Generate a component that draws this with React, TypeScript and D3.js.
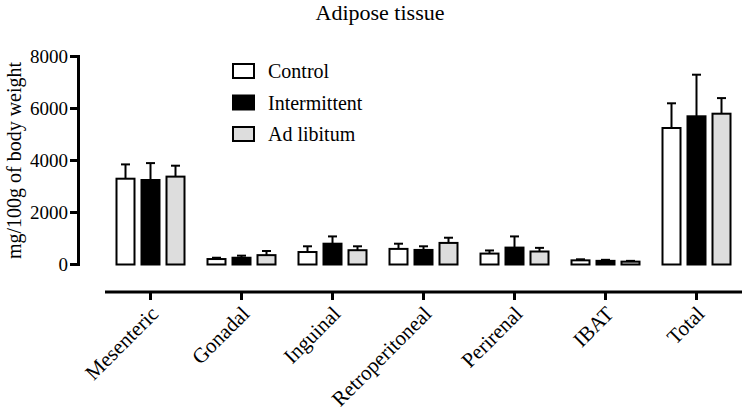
import React from "react";
import * as d3 from "d3";

const categories = ["Mesenteric", "Gonadal", "Inguinal", "Retroperitoneal", "Perirenal", "IBAT", "Total"];
const seriesNames = ["Control", "Intermittent", "Ad libitum"];
const controlMean = [3300, 210, 480, 600, 420, 160, 5250];
const controlErr = [550, 50, 220, 200, 120, 40, 950];
const intermittentMean = [3250, 260, 800, 560, 650, 140, 5700];
const intermittentErr = [650, 80, 280, 140, 430, 40, 1600];
const adlibMean = [3380, 360, 550, 830, 500, 110, 5800];
const adlibErr = [420, 160, 150, 200, 140, 30, 600];
const yTicks = [0, 2000, 4000, 6000, 8000];
const fills = ["#ffffff", "#000000", "#dddddd"];

const FONT = "Liberation Serif";

export default function App() {
  const W = 743, H = 412;
  const y = d3.scaleLinear().domain([0, 8000]).range([264.5, 56.5]);
  const x = d3.scaleBand<string>().domain(categories).range([105, 742]).paddingInner(0).paddingOuter(0);
  const inner = d3.scaleBand<string>().domain(seriesNames).range([-34, 34]).paddingInner(0.28).paddingOuter(0);
  const means = [controlMean, intermittentMean, adlibMean];
  const errs = [controlErr, intermittentErr, adlibErr];
  const axisX = 78.5;
  const ts = { fontFamily: FONT };

  return (
    <svg width={W} height={H} style={{ position: "absolute", left: 0, top: 0, background: "#fff", fontFamily: FONT }}>
      <text x={380} y={20} textAnchor="middle" fontSize={22} style={ts}>Adipose tissue</text>
      {/* y axis */}
      <line x1={axisX} x2={axisX} y1={y(8000) - 1.5} y2={y(0) + 1.5} stroke="#000" strokeWidth={3} />
      {yTicks.map((t) => (
        <g key={t}>
          <line x1={70} x2={axisX} y1={y(t)} y2={y(t)} stroke="#000" strokeWidth={3} />
          <text x={68} y={y(t)} dy="0.35em" textAnchor="end" fontSize={19} style={ts}>{t}</text>
        </g>
      ))}
      <text transform={`translate(21,${(y(0) + y(8000)) / 2}) rotate(-90)`} textAnchor="middle" fontSize={20} style={ts}>
        mg/100g of body weight
      </text>
      {/* bars */}
      {categories.map((c, i) => {
        const cx = x(c)! + x.bandwidth() / 2;
        return (
          <g key={c}>
            {seriesNames.map((s, k) => {
              const bx = cx + inner(s)!;
              const bw = inner.bandwidth();
              const m = means[k][i];
              const top = y(m + errs[k][i]);
              const mid = bx + bw / 2;
              return (
                <g key={s}>
                  <line x1={mid} x2={mid} y1={y(m)} y2={top} stroke="#000" strokeWidth={2} />
                  <line x1={mid - 4.5} x2={mid + 4.5} y1={top} y2={top} stroke="#000" strokeWidth={2} />
                  <rect x={bx} y={y(m)} width={bw} height={y(0) - y(m)} fill={fills[k]} stroke="#000" strokeWidth={2} />
                </g>
              );
            })}
          </g>
        );
      })}
      {/* x axis */}
      <line x1={105} x2={742} y1={292} y2={292} stroke="#000" strokeWidth={3} />
      {categories.map((c) => {
        const cx = x(c)! + x.bandwidth() / 2;
        return (
          <g key={c}>
            <line x1={cx} x2={cx} y1={292} y2={300} stroke="#000" strokeWidth={3} />
            <text transform={`translate(${cx + 4},${310}) rotate(-45)`} textAnchor="end" dy="0.35em" fontSize={21} style={ts}>{c}</text>
          </g>
        );
      })}
      {/* legend */}
      {seriesNames.map((s, k) => {
        const cy = 71 + k * 31.5;
        return (
          <g key={s}>
            <rect x={233} y={cy - 7} width={21} height={14} fill={fills[k]} stroke="#000" strokeWidth={2} />
            <text x={268} y={cy} dy="0.35em" fontSize={20} style={ts}>{s}</text>
          </g>
        );
      })}
    </svg>
  );
}
